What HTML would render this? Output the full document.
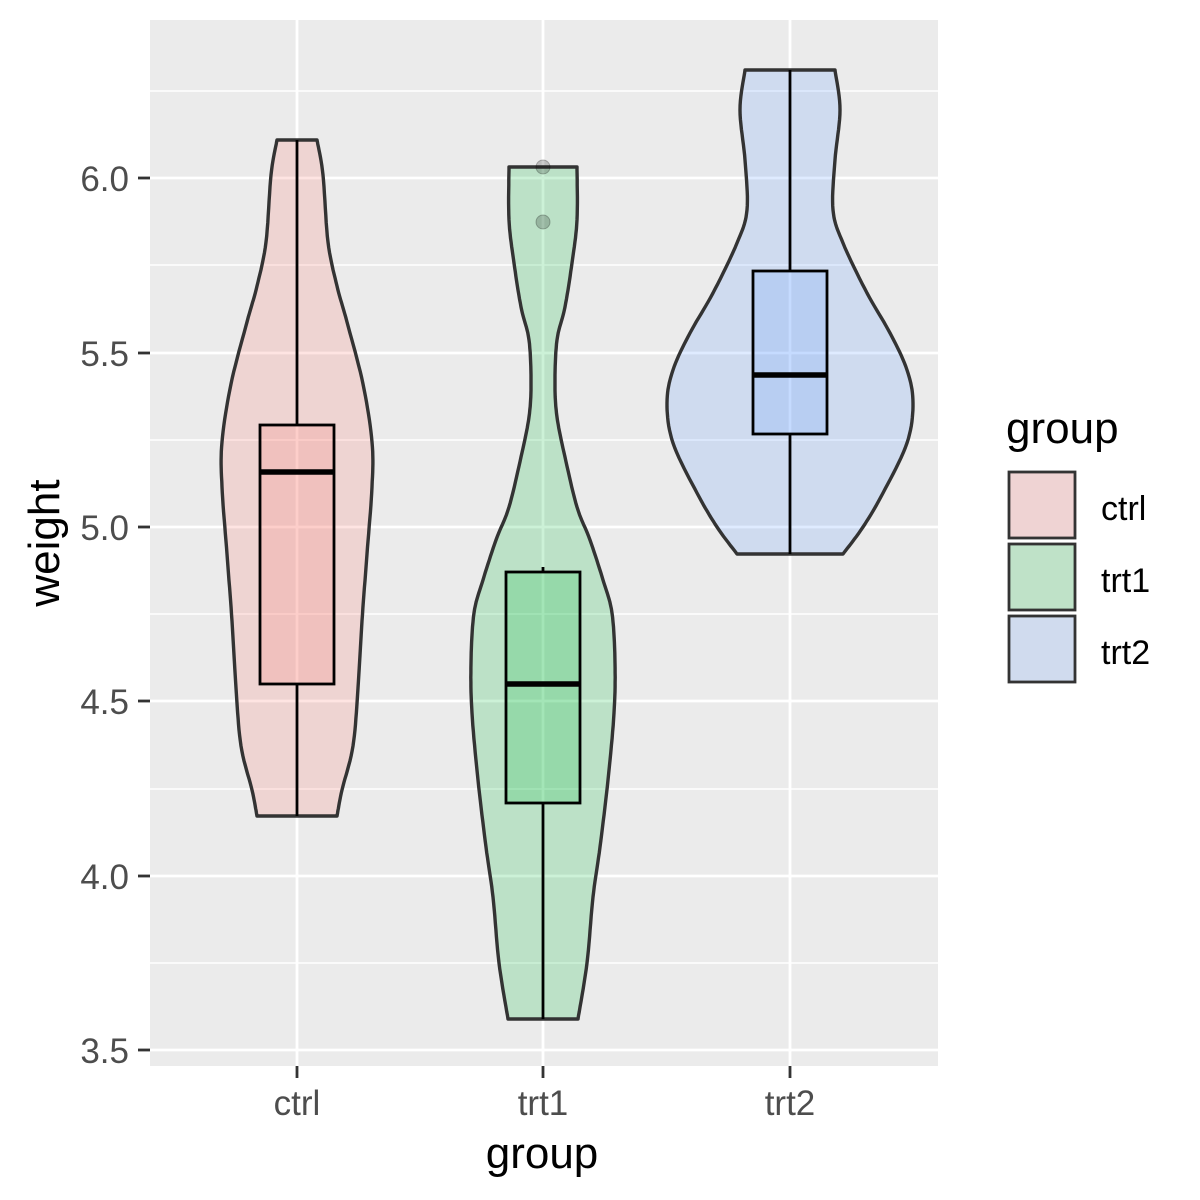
<!DOCTYPE html>
<html><head><meta charset="utf-8"><style>
html,body{margin:0;padding:0;background:#fff;width:1200px;height:1200px;overflow:hidden}
svg text{font-family:"Liberation Sans",Arial,sans-serif}
</style></head><body>
<svg id="s" width="1200" height="1200" xmlns="http://www.w3.org/2000/svg">
<rect x="150" y="20" width="788" height="1046" fill="#ebebeb"/>
<g stroke="#fff" stroke-width="1.4">
<line x1="150" x2="938" y1="91" y2="91"/><line x1="150" x2="938" y1="265" y2="265"/>
<line x1="150" x2="938" y1="440" y2="440"/><line x1="150" x2="938" y1="614" y2="614"/>
<line x1="150" x2="938" y1="789" y2="789"/><line x1="150" x2="938" y1="963" y2="963"/>
</g>
<g stroke="#fff" stroke-width="2.8">
<line x1="150" x2="938" y1="178" y2="178"/><line x1="150" x2="938" y1="353" y2="353"/>
<line x1="150" x2="938" y1="527" y2="527"/><line x1="150" x2="938" y1="701" y2="701"/>
<line x1="150" x2="938" y1="876" y2="876"/><line x1="150" x2="938" y1="1050" y2="1050"/>
<line x1="297" x2="297" y1="20" y2="1066"/><line x1="543" x2="543" y1="20" y2="1066"/>
<line x1="790" x2="790" y1="20" y2="1066"/>
</g>
<g id="v"></g>
<g fill="#4d4d4d" font-size="35">
<text x="129" y="191" text-anchor="end">6.0</text><text x="129" y="366" text-anchor="end">5.5</text>
<text x="129" y="540" text-anchor="end">5.0</text><text x="129" y="714" text-anchor="end">4.5</text>
<text x="129" y="889" text-anchor="end">4.0</text><text x="129" y="1063" text-anchor="end">3.5</text>
<text x="297" y="1115" text-anchor="middle">ctrl</text><text x="543" y="1115" text-anchor="middle">trt1</text>
<text x="790" y="1115" text-anchor="middle">trt2</text>
</g>
<g stroke="#333" stroke-width="2.8">
<line x1="138" x2="150" y1="178" y2="178"/><line x1="138" x2="150" y1="353" y2="353"/>
<line x1="138" x2="150" y1="527" y2="527"/><line x1="138" x2="150" y1="701" y2="701"/>
<line x1="138" x2="150" y1="876" y2="876"/><line x1="138" x2="150" y1="1050" y2="1050"/>
<line x1="297" x2="297" y1="1066" y2="1078"/><line x1="543" x2="543" y1="1066" y2="1078"/>
<line x1="790" x2="790" y1="1066" y2="1078"/>
</g>
<text x="542" y="1168" font-size="44" text-anchor="middle">group</text>
<text transform="translate(59,543) rotate(-90)" font-size="44" text-anchor="middle">weight</text>
<text x="1006" y="443" font-size="44">group</text>
<g stroke="#333" stroke-width="2.8">
<rect x="1009" y="472" width="66" height="66" fill="#efd3d3"/>
<rect x="1009" y="544" width="66" height="66" fill="#bfe2c8"/>
<rect x="1009" y="616" width="66" height="66" fill="#d0dbee"/>
</g>
<g font-size="34"><text x="1101" y="520">ctrl</text><text x="1101" y="592">trt1</text><text x="1101" y="664">trt2</text></g>
</svg>
<script>
var NS="http://www.w3.org/2000/svg",g=document.getElementById('v');
function el(t,a){var e=document.createElementNS(NS,t);for(var k in a)e.setAttribute(k,a[k]);g.appendChild(e);return e;}
function violin(cx,pts,col){
 var d=[];
 for(var i=0;i<pts.length-1;i++){var p0=pts[Math.max(0,i-1)],p1=pts[i],p2=pts[i+1],p3=pts[Math.min(pts.length-1,i+2)];
  for(var t=0;t<1;t+=0.1){var t2=t*t,t3=t2*t;
   var f=function(a,b,c,e){return 0.5*(2*b+(-a+c)*t+(2*a-5*b+4*c-e)*t2+(-a+3*b-3*c+e)*t3);};
   d.push([f(p0[0],p1[0],p2[0],p3[0]),f(p0[1],p1[1],p2[1],p3[1])]);}}
 d.push(pts[pts.length-1]);
 var s=d.map(function(p){return (cx+p[1]).toFixed(1)+","+p[0].toFixed(1)});
 var s2=d.slice().reverse().map(function(p){return (cx-p[1]).toFixed(1)+","+p[0].toFixed(1)});
 el('polygon',{points:s.concat(s2).join(' '),fill:col,'fill-opacity':0.2,stroke:'#333','stroke-width':3.4,'stroke-linejoin':'round'});
}
function box(cx,w1,q3,med,q1,w2,col){
 el('line',{x1:cx,x2:cx,y1:w1,y2:q3,stroke:'#000','stroke-width':2.8});
 el('line',{x1:cx,x2:cx,y1:q1,y2:w2,stroke:'#000','stroke-width':2.8});
 el('rect',{x:cx-37,y:q3,width:74,height:q1-q3,fill:col,'fill-opacity':0.2,stroke:'#000','stroke-width':2.8});
 el('line',{x1:cx-37,x2:cx+37,y1:med,y2:med,stroke:'#000','stroke-width':5.6});
}
violin(297,[[140,20],[175,26],[242,31],[286,40],[322,50],[384,66],[442,75],[487,75],[554,70],[621,65],[688,61],[746,56],[790,45],[816,40]],'#F8766D');
violin(543,[[167,34],[220,34],[263,29],[307,22],[340,14],[383,12],[417,14],[457,22],[507,34],[540,47],[580,60],[613,69],[663,72],[713,71],[780,65],[847,57],[897,50],[963,44],[1019,35]],'#00BA38');
violin(790,[[70,45],[110,50],[160,45],[210,43],[243,53],[293,77],[333,100],[370,117],[403,123],[443,117],[493,93],[527,73],[554,53]],'#619CFF');
box(297,140,425,472,684,816,'#F8766D');
box(543,567,572,684,803,1019,'#00BA38');
box(790,70,271,375,434,554,'#619CFF');
el('circle',{cx:543,cy:167,r:7,fill:'#000','fill-opacity':0.2,stroke:'#000','stroke-opacity':0.25});
el('circle',{cx:543,cy:222,r:7,fill:'#000','fill-opacity':0.2,stroke:'#000','stroke-opacity':0.25});
</script>
</body></html>
